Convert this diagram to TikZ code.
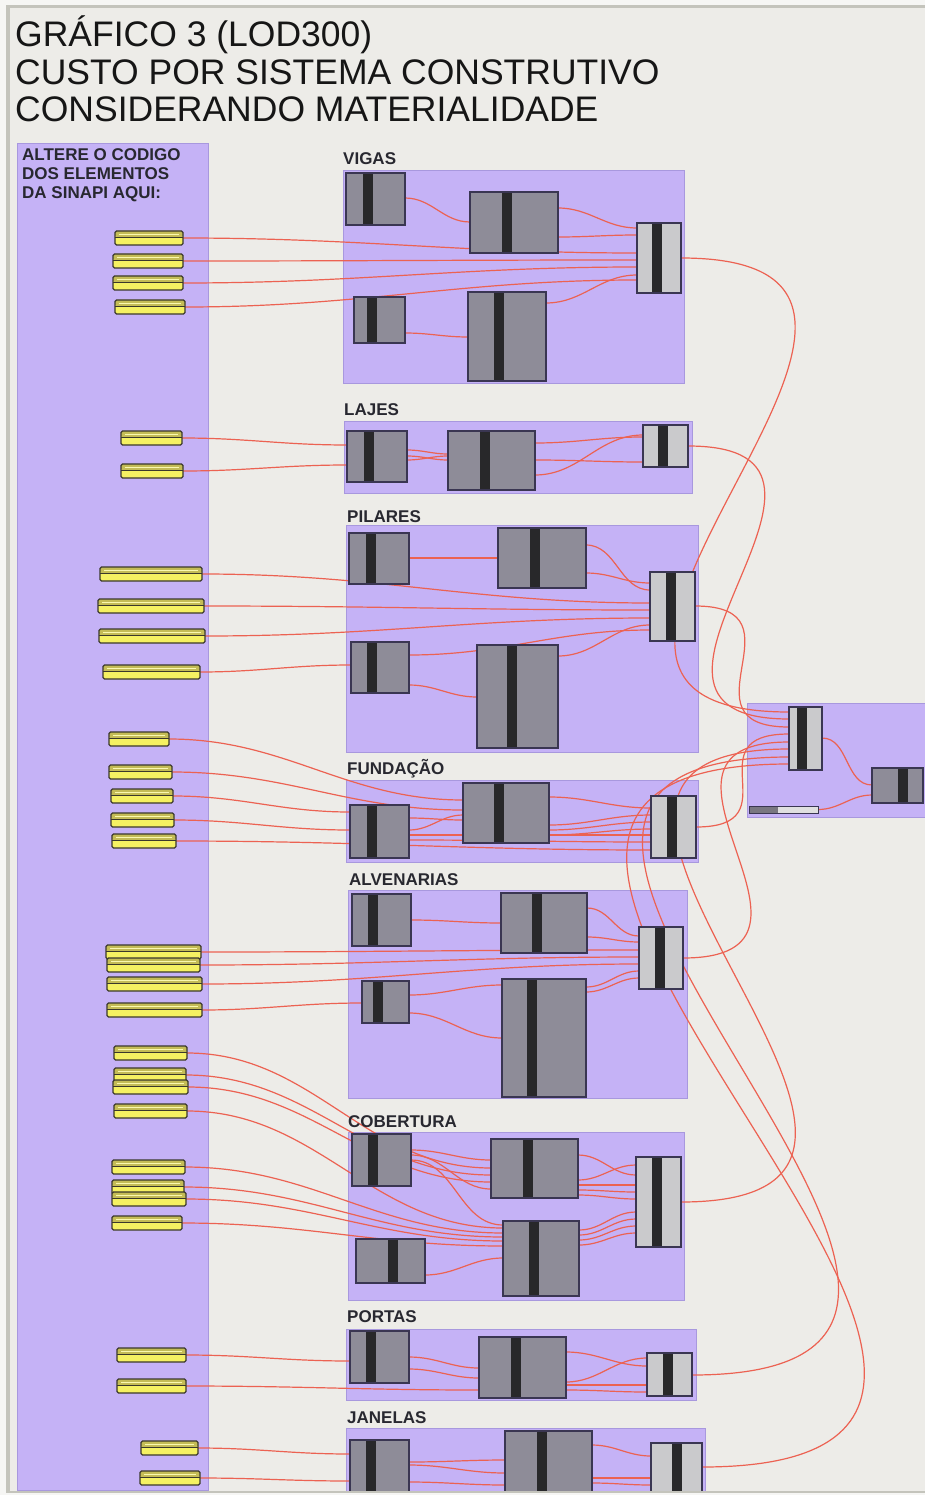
\documentclass[tikz,border=0pt]{standalone}
\usepackage{fontspec}
\setmainfont{Liberation Sans}
\usetikzlibrary{calc}
\definecolor{outerbg}{RGB}{246,246,244}
\definecolor{framec}{RGB}{196,196,188}
\definecolor{canvasc}{RGB}{237,236,232}
\definecolor{purplec}{RGB}{197,178,246}
\definecolor{purpleedge}{RGB}{168,152,222}
\definecolor{compgray}{RGB}{142,140,152}
\definecolor{complight}{RGB}{202,202,204}
\definecolor{compedgec}{RGB}{58,54,82}
\definecolor{stripec}{RGB}{40,40,42}
\definecolor{wirec}{RGB}{236,98,82}
\definecolor{yellowc}{RGB}{245,241,98}
\definecolor{olivec}{RGB}{196,188,86}
\definecolor{ydark}{RGB}{58,56,44}
\definecolor{textc}{RGB}{40,40,48}
\definecolor{titlec}{RGB}{22,22,22}
\pgfdeclarelayer{bg}
\pgfdeclarelayer{wl}
\pgfsetlayers{bg,wl,main}
\tikzset{
  panel/.style={fill=purplec, draw=purpleedge, line width=0.8pt, inner sep=0, outer sep=0},
  glabel/.style={font=\bfseries\fontsize{17}{19}\selectfont, text=textc, inner sep=0},
  titletext/.style={font=\fontsize{35.5}{38}\selectfont, text=titlec, inner sep=0},
  compg/.style={fill=compgray, inner sep=0, outer sep=0},
  compl/.style={fill=complight, inner sep=0, outer sep=0},
  edgeline/.style={draw=compedgec, line width=1.3pt},
  wire/.style={draw=wirec, line width=1.2pt, looseness=1.0},
  longwire/.style={wire, looseness=1.9},
  ybox/.style={draw=ydark, line width=1.1pt, fill=yellowc, rounded corners=1.5pt,
    inner sep=0, outer sep=0, minimum height=14pt,
    path picture={
      \fill[olivec] (path picture bounding box.north west) rectangle ([yshift=1pt]path picture bounding box.east);
      \draw[ydark, line width=0.9pt] ([yshift=0.5pt]path picture bounding box.west) -- ([yshift=0.5pt]path picture bounding box.east);
      \draw[yellowc!50!white, line width=0.6pt] ([xshift=4pt,yshift=4pt]path picture bounding box.west) -- ([xshift=-4pt,yshift=4pt]path picture bounding box.east);
    }},
  sliderbox/.style={draw=compedgec, line width=1pt, fill=white!88!black, inner sep=0, outer sep=0}
}
\newcommand\gcomp[7]{%
  \node[#7, anchor=north west, minimum width={(#4-#2)*1pt}, minimum height={(#5-#3)*1pt}] (#1) at (#2,#3) {};
  \fill[stripec] (#6,#3) rectangle ({#6+10},#5);
  \draw[edgeline] (#1.north west) rectangle (#1.south east);
}
\newcommand\gpanel[5]{%
  \node[panel, anchor=north west, minimum width={(#4-#2)*1pt}, minimum height={(#5-#3)*1pt}] (#1) at (#2,#3) {};
}
\newcommand\yelbox[4]{%
  \node[ybox, minimum width={(#3-#2)*1pt}] (#1) at ({(#2+#3)/2},#4) {};
}
\newcommand\gwire[4]{\draw[wire] ($(#1.north east)+(0,#2)$) to[out=0,in=180] ($(#3.north west)+(0,#4)$);}
\newcommand\lwire[4]{\draw[longwire] ($(#1.north east)+(0,#2)$) to[out=0,in=180] ($(#3.north west)+(0,#4)$);}
\newcommand\gywire[3]{\draw[wire] (#1.east) to[out=0,in=180] ($(#2.north west)+(0,#3)$);}
\begin{document}
\begin{tikzpicture}[x=1pt,y=-1pt]
\useasboundingbox (0,0) rectangle (925,1495);
\begin{pgfonlayer}{bg}
  \fill[outerbg] (0,0) rectangle (925,1495);
  \fill[framec] (6,5) rectangle (925,1494);
  \fill[canvasc] (10,8) rectangle (925,1491);
  % left panel
  \gpanel{leftp}{17}{143}{208}{1490}
  % groups
  \gpanel{gvig}{343}{170}{684}{383}
  \gpanel{glaj}{344}{421}{692}{493}
  \gpanel{gpil}{346}{525}{698}{752}
  \gpanel{gfun}{346}{780}{698}{862}
  \gpanel{galv}{348}{890}{687}{1098}
  \gpanel{gcob}{348}{1132}{684}{1300}
  \gpanel{gpor}{346}{1329}{696}{1400}
  \gpanel{gjan}{346}{1428}{705}{1491}
  \gpanel{gres}{747}{703}{925}{817}
\end{pgfonlayer}

% titles
\node[titletext, anchor=base west] (t1) at (15,47) {GRÁFICO 3 (LOD300)};
\node[titletext, anchor=base west] (t2) at (15,85) {CUSTO POR SISTEMA CONSTRUTIVO};
\node[titletext, anchor=base west] (t3) at (15,122) {CONSIDERANDO MATERIALIDADE};

\node[glabel, anchor=base west] (lt1) at (22,161) {ALTERE O CODIGO};
\node[glabel, anchor=base west] (lt2) at (22,180) {DOS ELEMENTOS};
\node[glabel, anchor=base west] (lt3) at (22,199) {DA SINAPI AQUI:};

\node[glabel, anchor=base west] (lvig) at (343,165) {VIGAS};
\node[glabel, anchor=base west] (llaj) at (344,415) {LAJES};
\node[glabel, anchor=base west] (lpil) at (347,522) {PILARES};
\node[glabel, anchor=base west] (lfun) at (347,774) {FUNDAÇÃO};
\node[glabel, anchor=base west] (lalv) at (349,885) {ALVENARIAS};
\node[glabel, anchor=base west] (lcob) at (348,1127) {COBERTURA};
\node[glabel, anchor=base west] (lpor) at (347,1322) {PORTAS};
\node[glabel, anchor=base west] (ljan) at (347,1423) {JANELAS};

% yellow input boxes
\yelbox{yv1}{115}{183}{238}
\yelbox{yv2}{113}{183}{261}
\yelbox{yv3}{113}{183}{283}
\yelbox{yv4}{115}{185}{307}
\yelbox{yl1}{121}{182}{438}
\yelbox{yl2}{121}{183}{471}
\yelbox{yp1}{100}{202}{574}
\yelbox{yp2}{98}{204}{606}
\yelbox{yp3}{99}{205}{636}
\yelbox{yp4}{103}{200}{672}
\yelbox{yf1}{109}{169}{739}
\yelbox{yf2}{109}{172}{772}
\yelbox{yf3}{111}{173}{796}
\yelbox{yf4}{111}{174}{820}
\yelbox{yf5}{112}{176}{841}
\yelbox{ya1}{106}{201}{952}
\yelbox{ya2}{107}{200}{965}
\yelbox{ya3}{107}{202}{984}
\yelbox{ya4}{107}{202}{1010}
\yelbox{yc1}{114}{187}{1053}
\yelbox{yc2}{114}{186}{1075}
\yelbox{yc3}{113}{188}{1087}
\yelbox{yc4}{114}{187}{1111}
\yelbox{yc5}{112}{185}{1167}
\yelbox{yc6}{112}{184}{1187}
\yelbox{yc7}{112}{186}{1199}
\yelbox{yc8}{112}{182}{1223}
\yelbox{yo1}{117}{186}{1355}
\yelbox{yo2}{117}{186}{1386}
\yelbox{yj1}{141}{198}{1448}
\yelbox{yj2}{140}{200}{1478}

% components
\gcomp{vA}{346}{173}{405}{225}{363}{compg}
\gcomp{vB}{470}{192}{558}{253}{502}{compg}
\gcomp{vC}{637}{223}{681}{293}{652}{compl}
\gcomp{vD}{354}{297}{405}{343}{367}{compg}
\gcomp{vE}{468}{292}{546}{381}{494}{compg}

\gcomp{lA}{347}{431}{407}{482}{364}{compg}
\gcomp{lB}{448}{431}{535}{490}{480}{compg}
\gcomp{lC}{643}{425}{688}{467}{658}{compl}

\gcomp{pA}{349}{533}{409}{584}{366}{compg}
\gcomp{pB}{498}{528}{586}{588}{530}{compg}
\gcomp{pC}{650}{572}{695}{641}{666}{compl}
\gcomp{pD}{351}{642}{409}{693}{367}{compg}
\gcomp{pE}{477}{645}{558}{748}{507}{compg}

\gcomp{fA}{463}{783}{549}{843}{494}{compg}
\gcomp{fB}{350}{805}{409}{858}{367}{compg}
\gcomp{fC}{651}{796}{696}{858}{667}{compl}

\gcomp{aA}{352}{894}{411}{946}{368}{compg}
\gcomp{aB}{501}{893}{587}{953}{532}{compg}
\gcomp{aC}{639}{927}{683}{989}{655}{compl}
\gcomp{aD}{362}{981}{409}{1023}{373}{compg}
\gcomp{aE}{502}{979}{586}{1097}{527}{compg}

\gcomp{cA}{352}{1134}{411}{1186}{368}{compg}
\gcomp{cB}{491}{1139}{578}{1198}{523}{compg}
\gcomp{cC}{636}{1157}{681}{1247}{652}{compl}
\gcomp{cD}{356}{1239}{425}{1283}{388}{compg}
\gcomp{cE}{503}{1221}{579}{1296}{529}{compg}

\gcomp{oA}{350}{1331}{409}{1383}{366}{compg}
\gcomp{oB}{479}{1337}{566}{1398}{511}{compg}
\gcomp{oC}{647}{1353}{692}{1396}{663}{compl}

\gcomp{jA}{350}{1440}{409}{1498}{366}{compg}
\gcomp{jB}{505}{1431}{592}{1492}{537}{compg}
\gcomp{jC}{651}{1443}{702}{1498}{672}{compl}

\gcomp{rL}{789}{707}{822}{770}{797}{compl}
\gcomp{rD}{872}{768}{923}{803}{898}{compg}
\node[sliderbox, anchor=north west, minimum width=69pt, minimum height=7pt] (slider) at (749,806) {};
\fill[compgray!85!black] (slider.north west) rectangle ($(slider.south west)+(29,0)$);
\draw[draw=compedgec, line width=1pt] (slider.north west) rectangle (slider.south east);

\begin{pgfonlayer}{wl}
  % VIGAS
  \gywire{yv1}{vC}{30}
  \gywire{yv2}{vC}{37}
  \gywire{yv3}{vC}{44}
  \gywire{yv4}{vC}{57}
  \gwire{vA}{25}{vB}{30}
  \gwire{vB}{16}{vC}{5}
  \gwire{vB}{45}{vC}{12}
  \gwire{vD}{36}{vE}{45}
  \gwire{vE}{11}{vC}{52}
  % LAJES
  \gywire{yl1}{lA}{14}
  \gywire{yl2}{lA}{34}
  \gwire{lA}{19}{lB}{23}
  \gwire{lA}{25}{lB}{29}
  \gwire{lA}{29}{lB}{25}
  \gwire{lB}{12}{lC}{12}
  \gwire{lB}{29}{lC}{37}
  \gwire{lB}{44}{lC}{10}
  % PILARES
  \gywire{yp1}{pC}{31}
  \gywire{yp2}{pC}{38}
  \gywire{yp3}{pC}{46}
  \gywire{yp4}{pD}{23}
  \gwire{pA}{25}{pB}{30}
  \gwire{pB}{17}{pC}{18}
  \gwire{pB}{45}{pC}{11}
  \gwire{pD}{13}{pC}{58}
  \gwire{pD}{43}{pE}{52}
  \gwire{pE}{11}{pC}{53}
  % FUNDACAO
  \gywire{yf1}{fA}{17}
  \gywire{yf2}{fA}{27}
  \gywire{yf3}{fB}{7}
  \gywire{yf4}{fB}{25}
  \gywire{yf5}{fC}{54}
  \gwire{fB}{13}{fA}{37}
  \gwire{fB}{25}{fA}{32}
  \gwire{fB}{30}{fC}{39}
  \gwire{fB}{35}{fC}{46}
  \gwire{fA}{14}{fC}{12}
  \gwire{fA}{42}{fC}{19}
  \gwire{fA}{47}{fC}{26}
  \gwire{fA}{52}{fC}{33}
  % ALVENARIAS
  \gywire{ya1}{aC}{23}
  \gywire{ya2}{aC}{30}
  \gywire{ya3}{aC}{37}
  \gywire{ya4}{aD}{22}
  \gwire{aA}{26}{aB}{30}
  \gwire{aB}{15}{aC}{9}
  \gwire{aB}{44}{aC}{15}
  \gwire{aD}{14}{aE}{6}
  \gwire{aD}{32}{aE}{59}
  \gwire{aE}{8}{aC}{44}
  \gwire{aE}{13}{aC}{51}
  % COBERTURA
  \gywire{yc1}{cB}{29}
  \gywire{yc2}{cB}{36}
  \gywire{yc3}{cB}{43}
  \gywire{yc4}{cE}{7}
  \gywire{yc5}{cE}{12}
  \gywire{yc6}{cE}{16}
  \gywire{yc7}{cE}{20}
  \gywire{yc8}{cE}{25}
  \gwire{cA}{16}{cB}{21}
  \gwire{cA}{21}{cB}{50}
  \gwire{cA}{26}{cE}{4}
  \gwire{cD}{36}{cE}{37}
  \gwire{cB}{16}{cC}{18}
  \gwire{cB}{41}{cC}{8}
  \gwire{cB}{46}{cC}{28}
  \gwire{cB}{51}{cC}{35}
  \gwire{cB}{56}{cC}{42}
  \gwire{cE}{9}{cC}{55}
  \gwire{cE}{14}{cC}{62}
  \gwire{cE}{19}{cC}{69}
  \gwire{cE}{24}{cC}{76}
  % PORTAS
  \gywire{yo1}{oA}{30}
  \gywire{yo2}{oB}{53}
  \gwire{oA}{26}{oB}{31}
  \gwire{oA}{38}{oB}{41}
  \gwire{oB}{15}{oC}{13}
  \gwire{oB}{45}{oC}{5}
  \gwire{oB}{48}{oC}{32}
  \gwire{oB}{53}{oC}{39}
  % JANELAS
  \gywire{yj1}{jA}{14}
  \gywire{yj2}{jA}{41}
  \gwire{jA}{22}{jB}{29}
  \gwire{jA}{25}{jB}{42}
  \gwire{jA}{42}{jB}{54}
  \gwire{jB}{14}{jC}{13}
  \gwire{jB}{47}{jC}{35}
  \gwire{jB}{52}{jC}{42}
  % outputs to result
  \lwire{vC}{35}{rL}{5}
  \lwire{lC}{21}{rL}{12}
  \lwire{pC}{34}{rL}{20}
  \lwire{fC}{31}{rL}{27}
  \lwire{aC}{31}{rL}{35}
  \lwire{cC}{45}{rL}{42}
  \lwire{oC}{22}{rL}{50}
  \lwire{jC}{24}{rL}{57}
  \gwire{rL}{31}{rD}{17}
  \draw[wire] (slider.east) to[out=0,in=180] ($(rD.north west)+(0,27)$);
\end{pgfonlayer}

% bottom edge of canvas
\fill[framec] (6,1491) rectangle (925,1493);
\fill[outerbg] (0,1493) rectangle (925,1495);
\end{tikzpicture}
\end{document}
